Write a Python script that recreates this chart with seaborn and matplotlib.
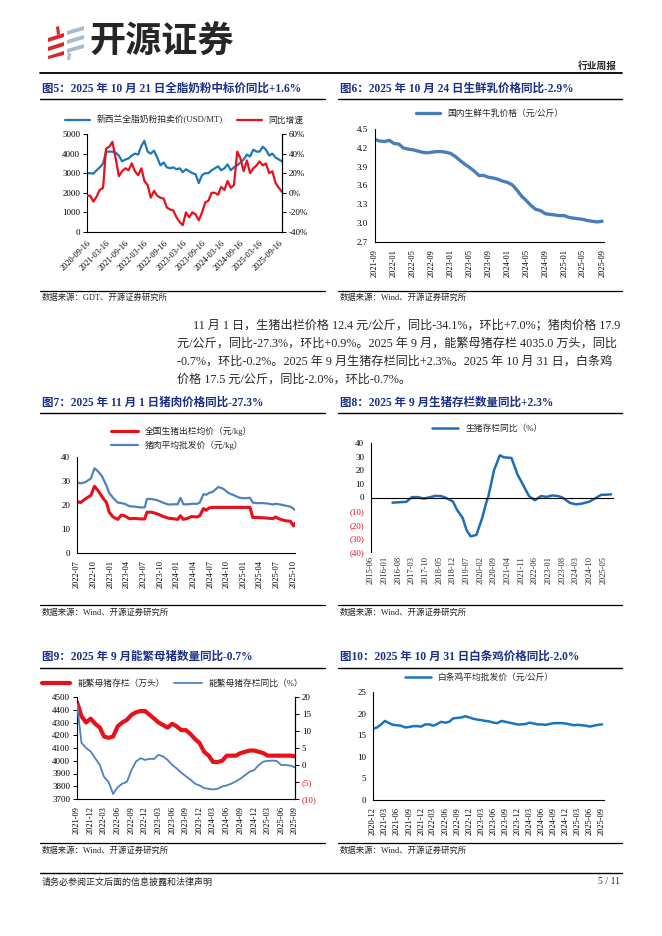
import numpy as np
import pandas as pd
import matplotlib
matplotlib.use('Agg')
import matplotlib.pyplot as plt
import seaborn as sns
from matplotlib.lines import Line2D
from matplotlib.patches import Polygon

# ---------------- data ----------------
# Fig5: GDT WMP price (USD/MT) and YoY (%), monthly from 2020-09
wmp_price = [3000, 3000, 2980, 3150, 3300, 3500, 4100, 4100, 4100, 4050, 3900, 3600,
             3700, 3750, 3900, 4000, 3950, 4400, 4650, 4100, 4000, 4150, 3800, 3400,
             3550, 3300, 3250, 3300, 3200, 3250, 3050, 3200, 3100, 3000, 2950, 2500,
             2900, 3000, 3000, 3150, 3250, 3350, 3150, 3250, 3450, 3150, 3300, 3400,
             3550, 3700, 3950, 3850, 4200, 4100, 4100, 4350, 4200, 3900, 4000, 3800,
             3700, 3600]
wmp_yoy = [-3, -3, -9, -4, 3, 5, 45, 47, 52, 35, 17, 22,
           25, 23, 30, 22, 18, 25, 12, 8, -5, 2, -3, -5,
           -6, -15, -17, -18, -25, -30, -33, -20, -25, -20, -22, -28,
           -20, -10, -8, 0, 0, -2, 6, 3, 12, 5, 8, 42,
           35, 22, 33, 20, 25, 28, 32, 28, 30, 20, 22, 10,
           5, 1]
wmp_start = '2020-09-01'

# Fig6: raw milk price (yuan/kg), monthly from 2021-09
milk_price = [4.33, 4.31, 4.30, 4.32, 4.27, 4.26, 4.20, 4.18, 4.17, 4.15, 4.13, 4.12,
              4.13, 4.14, 4.14, 4.13, 4.11, 4.06, 4.00, 3.94, 3.89, 3.83, 3.76, 3.76,
              3.73, 3.72, 3.70, 3.67, 3.65, 3.61, 3.53, 3.43, 3.36, 3.28, 3.22, 3.20,
              3.15, 3.14, 3.13, 3.12, 3.12, 3.09, 3.08, 3.07, 3.06, 3.04, 3.03, 3.02,
              3.03]
milk_start = '2021-09-01'

# Fig7: live hog price and pork wholesale price (yuan/kg)
pig_dates = ['2022-07-01', '2022-07-20', '2022-08-15', '2022-09-15', '2022-10-05', '2022-10-25',
             '2022-11-15', '2022-12-10', '2022-12-25', '2023-01-15', '2023-02-10', '2023-03-01',
             '2023-03-20', '2023-04-15', '2023-05-15', '2023-06-15', '2023-07-08', '2023-07-20',
             '2023-08-15', '2023-09-15', '2023-10-15', '2023-11-15', '2023-12-10', '2024-01-05',
             '2024-01-20', '2024-02-05', '2024-03-01', '2024-03-20', '2024-04-20', '2024-05-05',
             '2024-05-25', '2024-06-10', '2024-06-25', '2024-07-15', '2024-08-15', '2024-09-10',
             '2024-10-10', '2024-11-10', '2024-12-10', '2025-01-10', '2025-02-05', '2025-02-20',
             '2025-03-15', '2025-04-15', '2025-05-15', '2025-06-10', '2025-06-25', '2025-07-15',
             '2025-08-15', '2025-09-15', '2025-10-01', '2025-10-10']
pork_price = [29.5, 29, 29.5, 31, 35.3, 34, 32, 28, 25, 23, 21, 20.8,
              20.5, 19.5, 19.3, 19, 19, 22.5, 22.5, 22, 21, 20.2, 20.3, 20.3,
              23, 20.3, 20.3, 20.5, 20.5, 21, 24.5, 24.3, 25, 25.5, 27.5, 26.8,
              25, 24, 23, 22.8, 23, 21, 20.8, 20.8, 20.6, 20.2, 20.5, 20.3,
              19.8, 19.3, 18.5, 17.9]
hog_price = [21.5, 21, 22.5, 24, 27.8, 26, 23.5, 21, 17, 15, 14, 15.8,
             15.5, 14.3, 14.4, 14.2, 14.2, 17, 17, 16.3, 15.3, 14.5, 14.3, 14,
             15.5, 14, 14.5, 15.2, 15, 15.5, 18.5, 17.8, 18.8, 19, 19, 19,
             19, 19, 19, 19, 19, 14.8, 14.8, 14.7, 14.5, 14.3, 15, 14.2,
             13.5, 13.2, 11.3, 12.4]

# Fig8: hog inventory YoY (%)
hog_inv_dates = ['2016-05', '2016-08', '2016-12', '2017-03', '2017-06', '2017-09', '2018-01',
                 '2018-03', '2018-06', '2018-08', '2018-12', '2019-02', '2019-05', '2019-07',
                 '2019-09', '2019-12', '2020-03', '2020-05', '2020-06', '2020-09', '2020-12',
                 '2021-02', '2021-06', '2021-09', '2021-12', '2022-03', '2022-06', '2022-09',
                 '2022-12', '2023-03', '2023-06', '2023-08', '2023-12', '2024-03', '2024-06',
                 '2024-10', '2025-01', '2025-04', '2025-06', '2025-09']
hog_inv_yoy = [-3.8, -3.5, -3.2, 0.3, 0.3, -0.8, 0.5,
               1.2, 1.0, 0, -3, -9, -15, -24,
               -28.5, -27.5, -15, -4, 0, 20, 31,
               29.5, 29, 17, 9, 1, -2, 1,
               0.5, 1.5, 1.0, 0, -4, -5, -4.5,
               -3, -0.5, 2, 2, 2.3]

# Fig9: breeding sows (10k head) and YoY (%), monthly from 2021-09
sow_stock = [4460, 4350, 4300, 4330, 4290, 4260, 4190, 4180, 4190, 4270, 4300, 4320,
             4360, 4380, 4390, 4390, 4360, 4330, 4300, 4280, 4260, 4290, 4270, 4240,
             4240, 4210, 4170, 4140, 4070, 4040, 3990, 3990, 4000, 4040, 4040, 4040,
             4060, 4070, 4080, 4080, 4070, 4060, 4040, 4040, 4040, 4040, 4040, 4040,
             4035]
sow_yoy = [18, 6.5, 5, 4, 2, 0, -3.5, -5, -8.5, -6.5, -5.5, -5,
           -1.5, 1, 2, 1.5, 1.8, 1.8, 3, 2.5, 1.5, 0, -1, -2.3,
           -3.3, -4.3, -5.5, -6, -6.8, -7, -7.2, -7, -6.3, -6, -5.5, -4.8,
           -4, -3, -2, -1.5, 0, 1, 1.2, 1.3, 1.2, 0, 0, -0.2,
           -0.7]
sow_start = '2021-09-01'

# Fig10: white-striped chicken wholesale price (yuan/kg), monthly from 2020-12
chicken_price = [16.5, 16.8, 17.5, 18.3, 17.8, 17.4, 17.3, 17.2, 16.8, 16.9, 17.1, 17.1,
                 17.0, 17.5, 17.5, 17.2, 17.6, 18.1, 17.9, 18.1, 18.9, 19.0, 19.1, 19.4,
                 19.1, 18.8, 18.6, 18.5, 18.3, 18.2, 17.9, 17.8, 18.3, 18.1, 17.9, 17.7,
                 17.5, 17.5, 17.6, 17.9, 17.7, 17.5, 17.5, 17.4, 17.6, 17.8, 17.8, 17.8,
                 17.7, 17.5, 17.3, 17.4, 17.3, 17.2, 17.0, 17.2, 17.4, 17.5]
chicken_start = '2020-12-01'

titles = ['图5：2025 年 10 月 21 日全脂奶粉中标价同比+1.6%',
          '图6：2025 年 10 月 24 日生鲜乳价格同比-2.9%',
          '图7：2025 年 11 月 1 日猪肉价格同比-27.3%',
          '图8：2025 年 9 月生猪存栏数量同比+2.3%',
          '图9：2025 年 9 月能繁母猪数量同比-0.7%',
          '图10：2025 年 10 月 31 日白条鸡价格同比-2.0%']
sources = ['数据来源：GDT、开源证券研究所', '数据来源：Wind、开源证券研究所']
body_lines = ['11 月 1 日，生猪出栏价格 12.4 元/公斤，同比-34.1%，环比+7.0%；猪肉价格 17.9',
              '元/公斤，同比-27.3%，环比+0.9%。2025 年 9 月，能繁母猪存栏 4035.0 万头，同比',
              '-0.7%，环比-0.2%。2025 年 9 月生猪存栏同比+2.3%。2025 年 10 月 31 日，白条鸡',
              '价格 17.5 元/公斤，同比-2.0%，环比-0.7%。']

# ---------------- style ----------------
sns.set_style('white')
FAM = ['Liberation Serif', 'Noto Sans CJK SC']
plt.rcParams['font.family'] = FAM
plt.rcParams['axes.unicode_minus'] = False
plt.rcParams['axes.linewidth'] = 0.8

W, H = 662, 936
fig = plt.figure(figsize=(W / 100, H / 100), dpi=100)

NAVY = '#1a2f85'
RED = '#e8101a'


def box(x0, y0, x1, y1):
    return [x0 / W, 1 - y1 / H, (x1 - x0) / W, (y1 - y0) / H]


def ftext(x, y, s, **kw):
    kw.setdefault('va', 'center')
    fig.text(x / W, 1 - y / H, s, **kw)


def hline(x0, x1, y, lw=1.0):
    fig.add_artist(Line2D([x0 / W, x1 / W], [1 - y / H, 1 - y / H], color='black', lw=lw))


def style_ax(ax, right=False):
    for s in ['top', 'right']:
        ax.spines[s].set_visible(False)
    if right:
        ax.spines['right'].set_visible(True)
    for s in ax.spines.values():
        s.set_color('black')
    ax.tick_params(axis='both', labelsize=6.5, length=3, width=0.7, direction='out',
                   colors='black', pad=2)
    ax.set_xlabel('')
    ax.set_ylabel('')


def date_ticks(ax, ticks, fmt, rot=90):
    ax.set_xticks(ticks)
    if rot == 90:
        ax.set_xticklabels([t.strftime(fmt) for t in ticks], rotation=90, fontsize=6)
    else:
        ax.set_xticklabels([t.strftime(fmt) for t in ticks], rotation=rot, ha='right',
                           rotation_mode='anchor', fontsize=6)


# ---------------- page header ----------------
red_bars = [[(48, 38), (64, 33), (64, 37), (48, 42)],
            [(48, 47), (64, 42), (64, 46), (48, 51)],
            [(48, 56), (64, 51), (64, 55), (48, 59)],
            [(56, 27), (59, 26), (60, 34), (57, 35)]]
gray_bars = [[(67, 31), (84, 26), (84, 30), (67, 35)],
             [(67, 40), (84, 35), (84, 39), (67, 44)],
             [(67, 49), (84, 44), (84, 48), (67, 53)],
             [(68, 53), (71, 53), (70, 60), (67, 60)]]
for pts, c in [(p, '#d8282d') for p in red_bars] + [(p, '#a9bccb') for p in gray_bars]:
    fig.add_artist(Polygon([(x / W, 1 - y / H) for x, y in pts], closed=True,
                           transform=fig.transFigure, color=c, lw=0))
ftext(89, 42, '开源证券', fontsize=26, fontweight='bold', family=['Noto Sans CJK SC'])
ftext(617, 66, '行业周报', fontsize=7, fontweight='bold', ha='right', family=['Noto Sans CJK SC'])
hline(40, 622, 73, lw=1.3)

# titles and separators
for (x, y), t in zip([(42, 89), (340, 89), (42, 403), (340, 403), (42, 657), (340, 657)], titles):
    ftext(x, y, t, fontsize=8.3, fontweight='bold', color=NAVY, family=FAM)
for y in [99, 413, 668]:
    hline(40, 325, y, lw=1.0)
    hline(338, 622, y, lw=1.0)
for y, ys in [(291, 298), (605, 613), (843, 851)]:
    hline(40, 325, y, lw=0.9)
    hline(338, 622, y, lw=0.9)
    ftext(42, ys, sources[0] if y == 291 else sources[1], fontsize=6, family=FAM)
    ftext(340, ys, sources[1], fontsize=6, family=FAM)

# body text
for i, (x, s) in enumerate(zip([193, 177, 177, 177], body_lines)):
    ftext(x, 325 + i * 18.3, s, fontsize=8.7, family=FAM)

# footer
hline(40, 622, 873, lw=1.0)
ftext(42, 882, '请务必参阅正文后面的信息披露和法律声明', fontsize=6.5, family=FAM)
ftext(620, 882, '5 / 11', fontsize=7, ha='right', family=FAM)

# ---------------- Fig 5 ----------------
ax5 = fig.add_axes(box(87, 134, 282, 232))
d5 = pd.date_range(wmp_start, periods=len(wmp_price), freq='MS') + pd.Timedelta(days=15)
sns.lineplot(x=d5, y=wmp_price, ax=ax5, color='#1f77b8', lw=1.6,
             label='新西兰全脂奶粉拍卖价(USD/MT)', legend=False)
ax5.set_ylim(0, 5000)
ax5.set_yticks(range(0, 5001, 1000))
ax5.set_xlim(d5[0], d5[-1])
style_ax(ax5, right=True)
date_ticks(ax5, pd.date_range('2020-09-16', '2025-09-16', freq=pd.DateOffset(months=6)),
           '%Y-%m-%d', rot=45)
ax5b = ax5.twinx()
sns.lineplot(x=d5, y=wmp_yoy, ax=ax5b, color=RED, lw=1.6, label='同比增速', legend=False)
ax5b.set_ylim(-40, 60)
ax5b.set_yticks(range(-40, 61, 20))
ax5b.set_yticklabels([f'{v}%' for v in range(-40, 61, 20)])
style_ax(ax5b, right=True)
ax5b.spines['left'].set_visible(False)
ax5b.spines['bottom'].set_visible(False)
h1, l1 = ax5.get_legend_handles_labels()
h2, l2 = ax5b.get_legend_handles_labels()
ax5b.legend(h1 + h2, l1 + l2, ncol=2, loc='lower center', bbox_to_anchor=(0.5, 1.06),
            frameon=False, fontsize=6.3, handlelength=2.8, columnspacing=1.6, borderaxespad=0)

# ---------------- Fig 6 ----------------
ax6 = fig.add_axes(box(375, 129, 604, 242))
d6 = pd.date_range(milk_start, periods=len(milk_price), freq='MS')
sns.lineplot(x=d6, y=milk_price, ax=ax6, color='#4a7ebb', lw=2.4,
             label='国内生鲜牛乳价格（元/公斤）', legend=False)
ax6.set_ylim(2.7, 4.5)
yt6 = [2.7, 3.0, 3.3, 3.6, 3.9, 4.2, 4.5]
ax6.set_yticks(yt6)
ax6.set_yticklabels([f'{v:.1f}' for v in yt6])
ax6.set_xlim(d6[0], d6[-1] + pd.Timedelta(days=12))
style_ax(ax6)
date_ticks(ax6, pd.date_range('2021-09-01', '2025-09-01', freq='4MS'), '%Y-%m')
ax6.legend(loc='lower center', bbox_to_anchor=(0.5, 1.07), frameon=False, fontsize=6.3,
           handlelength=2.8, borderaxespad=0)

# ---------------- Fig 7 ----------------
ax7 = fig.add_axes(box(77, 457, 295, 553))
d7 = pd.to_datetime(pig_dates)
sns.lineplot(x=d7, y=hog_price, ax=ax7, color=RED, lw=2.2,
             label='全国生猪出栏均价（元/kg）', legend=False)
sns.lineplot(x=d7, y=pork_price, ax=ax7, color='#4f81bd', lw=1.6,
             label='猪肉平均批发价（元/kg）', legend=False)
ax7.set_ylim(0, 40)
ax7.set_yticks(range(0, 41, 10))
ax7.set_xlim(pd.Timestamp('2022-07-01'), pd.Timestamp('2025-10-10'))
style_ax(ax7)
date_ticks(ax7, pd.date_range('2022-07-01', '2025-10-01', freq='3MS'), '%Y-%m')
ax7.legend(loc='lower center', bbox_to_anchor=(0.48, 1.04), frameon=False, fontsize=6.3,
           handlelength=3.0, borderaxespad=0, labelspacing=0.5)

# ---------------- Fig 8 ----------------
ax8 = fig.add_axes(box(371, 443, 613, 552))
d8 = pd.to_datetime(hog_inv_dates)
sns.lineplot(x=d8, y=hog_inv_yoy, ax=ax8, color='#1f6eb5', lw=1.8,
             label='生猪存栏同比（%）', legend=False)
ax8.set_ylim(-40, 40)
yt8 = list(range(-40, 41, 10))
ax8.set_yticks(yt8)
ax8.set_yticklabels([f'({-v})' if v < 0 else f'{v}' for v in yt8])
ax8.set_xlim(pd.Timestamp('2015-06-01'), pd.Timestamp('2025-10-01'))
style_ax(ax8)
for lab, v in zip(ax8.get_yticklabels(), yt8):
    lab.set_color(RED if v < 0 else 'black')
xt8 = pd.date_range('2015-06-01', '2025-06-01', freq='7MS')
ax8.spines['bottom'].set_position(('data', 0))
ax8.set_xticks(xt8)
ax8.tick_params(axis='x', direction='in', length=3, labelbottom=False)
sec8 = ax8.secondary_xaxis(0.0)
sec8.set_xticks(xt8)
sec8.set_xticklabels([t.strftime('%Y-%m') for t in xt8], rotation=90, fontsize=6)
sec8.tick_params(length=0, pad=3)
sec8.spines['bottom'].set_visible(False)
ax8.legend(loc='lower center', bbox_to_anchor=(0.48, 1.06), frameon=False, fontsize=6.3,
           handlelength=3.0, borderaxespad=0)

# ---------------- Fig 9 ----------------
ax9 = fig.add_axes(box(77, 697, 295, 799))
d9 = pd.date_range(sow_start, periods=len(sow_stock), freq='MS')
sns.lineplot(x=d9, y=sow_stock, ax=ax9, color=RED, lw=3.0,
             label='能繁母猪存栏（万头）', legend=False)
ax9.set_ylim(3700, 4500)
ax9.set_yticks(range(3700, 4501, 100))
ax9.set_xlim(d9[0], d9[-1])
style_ax(ax9, right=True)
date_ticks(ax9, pd.date_range('2021-09-01', '2025-09-01', freq='3MS'), '%Y-%m')
ax9b = ax9.twinx()
sns.lineplot(x=d9, y=sow_yoy, ax=ax9b, color='#4f81bd', lw=1.3,
             label='能繁母猪存栏同比（%）', legend=False)
ax9b.set_ylim(-10, 20)
yt9 = list(range(-10, 21, 5))
ax9b.set_yticks(yt9)
ax9b.set_yticklabels([f'({-v})' if v < 0 else f'{v}' for v in yt9])
style_ax(ax9b, right=True)
ax9b.spines['left'].set_visible(False)
ax9b.spines['bottom'].set_visible(False)
for lab, v in zip(ax9b.get_yticklabels(), yt9):
    lab.set_color(RED if v < 0 else 'black')
h1, l1 = ax9.get_legend_handles_labels()
h2, l2 = ax9b.get_legend_handles_labels()
ax9b.legend(h1 + h2, l1 + l2, ncol=2, loc='lower center', bbox_to_anchor=(0.44, 1.05),
            frameon=False, fontsize=6.3, handlelength=3.2, columnspacing=1.0, borderaxespad=0)

# ---------------- Fig 10 ----------------
ax10 = fig.add_axes(box(373, 692, 604, 800))
d10 = pd.date_range(chicken_start, periods=len(chicken_price), freq='MS')
sns.lineplot(x=d10, y=chicken_price, ax=ax10, color='#1a75bc', lw=1.8,
             label='白条鸡平均批发价（元/公斤）', legend=False)
ax10.set_ylim(0, 25)
ax10.set_yticks(range(0, 26, 5))
ax10.set_xlim(d10[0], d10[-1] + pd.Timedelta(days=15))
style_ax(ax10)
date_ticks(ax10, pd.date_range('2020-12-01', '2025-09-01', freq='3MS'), '%Y-%m')
ax10.legend(loc='lower center', bbox_to_anchor=(0.46, 1.06), frameon=False, fontsize=6.3,
            handlelength=3.0, borderaxespad=0)

fig.savefig('out.png', dpi=100)
